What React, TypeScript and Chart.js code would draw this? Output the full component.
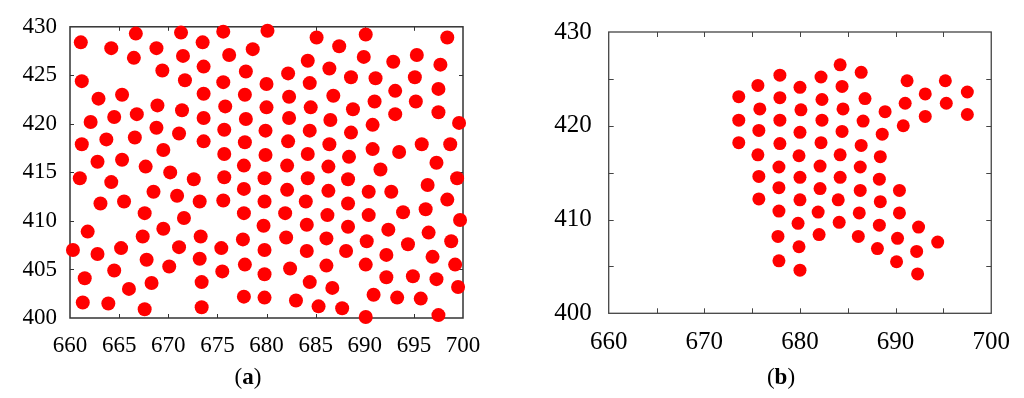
import React, { useEffect, useRef } from "react";
import { Chart, registerables } from "chart.js";

Chart.register(...registerables);

// ---- Data: panel (a) ----
const aX = [
  661.1, 664.2, 666.7, 666.5, 668.8, 671.3, 673.5, 671.5, 669.4, 673.6, 675.6, 676.2, 678.6, 680.1,
  661.2, 671.7, 675.6, 677.9, 680.0, 662.9, 665.3, 668.9, 671.4, 673.6, 675.8, 677.8, 680.0,
  662.1, 664.5, 666.8, 668.8, 671.1, 673.6, 675.7, 677.9, 679.9, 661.2, 663.7, 666.6, 669.5,
  673.6, 677.8, 679.9, 662.8, 665.3, 667.7, 670.2, 675.7, 677.7,
  661.0, 664.2, 668.5, 670.9, 672.6, 675.7, 677.7, 679.8, 663.1, 665.5, 667.6, 673.2, 675.6,
  677.7, 679.8, 671.6, 661.8, 669.5, 667.4, 673.3, 677.6, 679.7, 660.3, 662.8, 665.2, 671.1,
  667.8, 673.2, 675.4, 679.8, 664.5, 670.1, 675.5, 677.8, 679.8, 661.5, 666.0, 668.3, 673.4,
  661.3, 663.9, 667.6, 673.4, 677.7, 679.8,
  685.1, 687.4, 690.1, 698.4, 684.2, 686.4, 689.9, 692.9, 695.3, 697.7, 682.2, 684.4, 688.6,
  691.1, 695.1, 697.5, 682.3, 686.8, 693.1, 684.5, 688.8, 691.0, 695.2, 682.3, 686.5, 693.1,
  697.5, 699.6, 684.4, 688.6, 690.8, 682.2, 686.4, 695.8, 698.7, 684.2, 688.4, 690.8, 693.5,
  682.1, 686.3, 691.6, 697.3,
  684.2, 688.3, 699.4, 682.1, 686.3, 690.4, 692.7, 696.4, 684.0, 688.3, 698.4, 681.9, 686.2,
  690.4, 693.9, 696.2, 699.7, 684.1, 688.3, 692.4, 696.5, 682.0, 686.1, 690.2, 694.4, 698.8,
  684.1, 688.1, 692.2, 696.9, 682.4, 686.1, 690.1, 699.2, 684.4, 686.7, 692.2, 694.9, 697.3,
  699.5, 683.0, 685.3, 687.7, 690.9, 693.3, 695.7, 690.1, 697.5,
];
const aY = [
  428.4, 427.8, 429.3, 426.8, 427.8, 429.4, 428.4, 427.0, 425.5, 425.9, 429.5, 427.1, 427.7, 429.6,
  424.4, 424.5, 424.3, 425.4, 424.1, 422.6, 423.0, 421.9, 421.4, 423.1, 421.8, 423.0, 421.7,
  420.2, 420.7, 421.0, 419.6, 419.0, 420.6, 419.4, 420.5, 419.3, 417.9, 418.4, 418.6, 417.3,
  418.2, 418.1, 416.8, 416.1, 416.3, 415.6, 415.0, 416.9, 415.7,
  414.4, 414.0, 413.0, 412.6, 414.3, 414.5, 413.3, 414.4, 411.8, 412.0, 410.8, 412.0, 412.1,
  410.8, 412.0, 410.3, 408.9, 409.2, 408.4, 408.4, 408.1, 409.5, 407.0, 406.6, 407.2, 407.3,
  406.0, 406.1, 407.2, 407.0, 404.9, 405.3, 404.8, 405.5, 404.5, 404.1, 403.0, 403.6, 403.7,
  401.6, 401.5, 400.9, 401.1, 402.2, 402.1,
  428.9, 428.0, 429.2, 428.9, 426.5, 425.7, 426.9, 426.4, 427.1, 426.1, 425.2, 424.2, 424.8,
  424.7, 424.8, 423.6, 422.8, 422.9, 423.4, 421.7, 421.5, 422.3, 422.3, 420.6, 420.4, 421.0,
  421.2, 420.1, 419.3, 419.1, 419.9, 418.2, 417.9, 417.9, 417.9, 416.9, 416.6, 417.4, 417.1,
  415.7, 415.6, 415.3, 416.0,
  414.4, 414.3, 414.4, 413.2, 413.1, 413.0, 413.0, 413.7, 412.0, 411.8, 412.2, 410.8, 410.6,
  410.6, 410.9, 411.2, 410.1, 409.6, 409.4, 409.1, 408.8, 408.3, 408.2, 407.9, 407.6, 407.9,
  406.9, 406.9, 406.5, 406.3, 405.1, 405.4, 405.5, 405.5, 403.7, 403.1, 404.2, 404.3, 404.0,
  403.2, 401.8, 401.2, 401.0, 402.4, 402.1, 402.0, 400.1, 400.3,
];

// ---- Data: panel (b) ----
const bX = [
  673.6, 675.6, 675.8, 673.6, 675.7, 673.6, 675.6, 675.7, 675.7,
  677.9, 680.0, 682.2, 684.2, 686.4, 684.4, 677.9, 682.3, 686.8, 691.2, 695.2, 693.1, 697.5,
  680.1, 684.5, 688.9, 691.0, 695.3, 677.9, 682.3, 686.6, 690.8, 693.1, 697.5,
  680.0, 684.4, 688.6, 677.9, 682.2, 686.4, 679.9, 684.2, 688.4, 677.8, 682.1, 686.3,
  680.0, 684.2, 688.3, 677.8, 682.1, 686.3, 690.4, 680.0, 684.0, 688.4,
  677.8, 681.9, 686.2, 690.4, 692.4, 679.8, 684.1, 688.3, 677.7, 682.0, 686.1, 690.2, 694.4,
  679.9, 688.1, 692.2, 677.8, 690.1, 680.0, 692.3,
];
const bY = [
  423.1, 424.3, 421.8, 420.6, 419.5, 418.2, 416.9, 414.6, 412.2,
  425.4, 424.1, 425.2, 426.5, 425.7, 424.2, 423.0, 422.8, 422.9, 424.8, 424.8, 423.4, 423.6,
  421.7, 421.8, 421.5, 422.4, 422.4, 420.6, 420.6, 420.5, 420.0, 421.0, 421.2,
  419.3, 419.4, 419.1, 418.1, 418.2, 417.9, 416.8, 416.9, 416.7, 415.6, 415.7, 415.6,
  414.5, 414.5, 414.3, 413.4, 413.3, 413.1, 413.1, 412.1, 412.1, 411.9,
  410.9, 410.8, 410.7, 410.7, 409.2, 409.6, 409.7, 409.4, 408.2, 408.4, 408.2, 408.0, 407.6,
  407.1, 406.9, 406.6, 405.6, 405.5, 404.6, 404.2,
];

// ---- Axis settings ----
const xMin = 660;
const xMax = 700;
const yMin = 400;
const yMax = 430;
const tickStep = 5;
const labelStepA = 5;
const labelStepB = 10;
const captions = ["a", "b"];

const SERIF = "'Liberation Serif', 'DejaVu Serif', serif";

function framePlugin(color: string, width: number, tickLen: number) {
  return {
    id: "frame",
    beforeDatasetsDraw(chart: any) {
      const { ctx, chartArea: a, scales } = chart;
      const xs = scales.x;
      const ys = scales.y;
      ctx.save();
      ctx.strokeStyle = color;
      ctx.lineWidth = 1;
      ctx.beginPath();
      for (const t of xs.ticks) {
        if (t.value <= xs.min || t.value >= xs.max) continue;
        const px = Math.round(xs.getPixelForValue(t.value)) + 0.5;
        ctx.moveTo(px, a.bottom);
        ctx.lineTo(px, a.bottom - tickLen);
        ctx.moveTo(px, a.top);
        ctx.lineTo(px, a.top + tickLen);
      }
      for (const t of ys.ticks) {
        if (t.value <= ys.min || t.value >= ys.max) continue;
        const py = Math.round(ys.getPixelForValue(t.value)) + 0.5;
        ctx.moveTo(a.left, py);
        ctx.lineTo(a.left + tickLen, py);
        ctx.moveTo(a.right, py);
        ctx.lineTo(a.right - tickLen, py);
      }
      ctx.stroke();
      ctx.lineWidth = width;
      ctx.strokeRect(a.left, a.top, a.right - a.left, a.bottom - a.top);
      ctx.restore();
    },
  };
}

type PanelCfg = {
  xs: number[];
  ys: number[];
  radius: number;
  labelStep: number;
  fontSize: number;
  yWidth: number;
  xHeight: number;
  padTop: number;
  padRight: number;
  yPad: number;
  xPad: number;
  frameColor: string;
  frameWidth: number;
  tickLen: number;
};

function makeChart(canvas: HTMLCanvasElement, c: PanelCfg) {
  const fmt = (v: any) => (Math.round(Number(v)) % c.labelStep === 0 ? String(v) : "");
  return new Chart(canvas, {
    type: "scatter",
    data: {
      datasets: [
        {
          data: c.xs.map((x, i) => ({ x, y: c.ys[i] })),
          backgroundColor: "#ff0000",
          borderColor: "#ff0000",
          pointRadius: c.radius,
          pointHoverRadius: c.radius,
          pointBorderWidth: 0,
          clip: false as any,
        },
      ],
    },
    options: {
      animation: false,
      responsive: false,
      maintainAspectRatio: false,
      events: [],
      layout: { padding: { left: 0, top: c.padTop, right: c.padRight, bottom: 0 } },
      plugins: { legend: { display: false }, tooltip: { enabled: false } },
      scales: {
        x: {
          type: "linear",
          position: "bottom",
          min: xMin,
          max: xMax,
          grid: { display: false, drawTicks: false },
          border: { display: false },
          ticks: {
            stepSize: tickStep,
            autoSkip: false,
            maxRotation: 0,
            color: "#000",
            padding: c.xPad,
            font: { family: SERIF, size: c.fontSize },
            callback: fmt,
          },
          afterFit: (s: any) => {
            s.height = c.xHeight;
          },
        },
        y: {
          type: "linear",
          position: "left",
          min: yMin,
          max: yMax,
          grid: { display: false, drawTicks: false },
          border: { display: false },
          ticks: {
            stepSize: tickStep,
            autoSkip: false,
            color: "#000",
            padding: c.yPad,
            font: { family: SERIF, size: c.fontSize },
            callback: fmt,
          },
          afterFit: (s: any) => {
            s.width = c.yWidth;
          },
        },
      },
    } as any,
    plugins: [framePlugin(c.frameColor, c.frameWidth, c.tickLen)],
  });
}

export default function App() {
  const refA = useRef<HTMLCanvasElement>(null);
  const refB = useRef<HTMLCanvasElement>(null);

  useEffect(() => {
    const chA = makeChart(refA.current!, {
      xs: aX,
      ys: aY,
      radius: 7,
      labelStep: labelStepA,
      fontSize: 23,
      yWidth: 70,
      xHeight: 80,
      padTop: 24,
      padRight: 49,
      yPad: 13,
      xPad: 14,
      frameColor: "#333",
      frameWidth: 1.5,
      tickLen: 4,
    });
    const chB = makeChart(refB.current!, {
      xs: bX,
      ys: bY,
      radius: 6.5,
      labelStep: labelStepB,
      fontSize: 25,
      yWidth: 96.7,
      xHeight: 84.7,
      padTop: 26.5,
      padRight: 32.7,
      yPad: 17,
      xPad: 14,
      frameColor: "#444",
      frameWidth: 1.3,
      tickLen: 5,
    });
    return () => {
      chA.destroy();
      chB.destroy();
    };
  }, []);

  const capStyle = (cx: number): React.CSSProperties => ({
    position: "absolute",
    left: cx,
    top: 376,
    transform: "translate(-50%, -50%)",
    fontFamily: SERIF,
    fontSize: 23,
    lineHeight: 1,
    color: "#000",
    whiteSpace: "nowrap",
  });

  return (
    <div style={{ position: "absolute", left: 0, top: 0, width: 1024, height: 398, background: "#fff", overflow: "hidden" }}>
      <canvas ref={refA} width={512} height={398} style={{ position: "absolute", left: 0, top: 0, width: 512, height: 398 }} />
      <canvas ref={refB} width={512} height={398} style={{ position: "absolute", left: 512, top: 0, width: 512, height: 398 }} />
      <div style={capStyle(248)}>
        (<b>{captions[0]}</b>)
      </div>
      <div style={capStyle(781)}>
        (<b>{captions[1]}</b>)
      </div>
    </div>
  );
}
